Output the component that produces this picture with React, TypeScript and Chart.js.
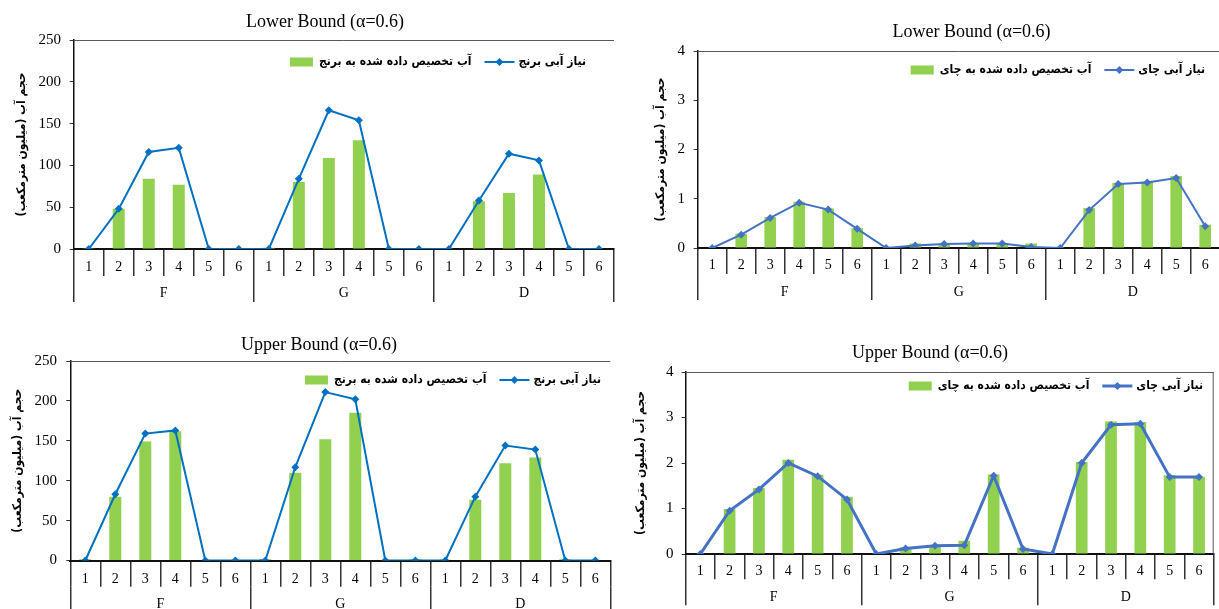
import React, { useEffect, useRef } from 'react';
import { Chart, registerables } from 'chart.js';

Chart.register(...registerables);

// ---------- data ----------
const subLabels = ['1', '2', '3', '4', '5', '6'];
const groupLabels = ['F', 'G', 'D'];
const xLabels = [...subLabels, ...subLabels, ...subLabels];

const riceDemandLower = [0, 48, 116, 121, 0, 0, 0, 84, 166, 154, 0, 0, 0, 58, 114, 106, 0, 0];
const riceAllocLower = [1, 48, 84, 77, 0, 0, 1.5, 80, 109, 130, 0, 0, 0, 57, 67, 89, 0, 0];

const riceDemandUpper = [0, 83, 159, 163, 0, 0, 0, 117, 211, 202, 0, 0, 0, 80, 144, 139, 0, 0];
const riceAllocUpper = [1.5, 80, 149, 162, 0, 0, 1.5, 110, 152, 185, 0, 1.5, 1, 76, 122, 129, 1.5, 0];

const teaDemandLower = [0, 0.27, 0.61, 0.92, 0.78, 0.39, 0, 0.05, 0.08, 0.09, 0.09, 0.02, 0, 0.77, 1.3, 1.33, 1.42, 0.44];
const teaAllocLower = [0, 0.29, 0.63, 0.94, 0.8, 0.4, 0, 0.09, 0.08, 0.08, 0.09, 0.09, 0, 0.81, 1.32, 1.35, 1.46, 0.47];

const teaDemandUpper = [0, 0.95, 1.42, 2.0, 1.71, 1.2, 0, 0.12, 0.18, 0.19, 1.72, 0.11, 0, 2.0, 2.84, 2.86, 1.69, 1.69];
const teaAllocUpper = [0, 0.99, 1.45, 2.07, 1.74, 1.26, 0, 0.15, 0.19, 0.29, 1.75, 0.14, 0, 2.02, 2.91, 2.9, 1.73, 1.7];

const yTitle = 'حجم آب (میلیون مترمکعب)\u200F';
const riceDemandName = 'نیاز آبی برنج';
const riceAllocName = 'آب تخصیص داده شده به برنج';
const teaDemandName = 'نیاز آبی چای';
const teaAllocName = 'آب تخصیص داده شده به چای';
const lowerTitle = 'Lower Bound (α=0.6)';
const upperTitle = 'Upper Bound (α=0.6)';

const SERIF = "'Liberation Serif', 'Times New Roman', serif";
const ARABIC = "'DejaVu Sans Condensed', 'DejaVu Sans', sans-serif";
const BAR_COLOR = '#92D050';
const AXIS_COLOR = '#333333';

type Cfg = {
  left: number; top: number; width: number; height: number;
  title: string; titleX: number; titleY: number; padTop: number;
  demand: number[]; alloc: number[]; demandName: string; allocName: string;
  yMax: number; yStep: number; yAxisWidth: number; yTickPad: number; yTitlePad: number;
  padRight: number; padBottom: number;
  xH1: number; xH2: number; xPad1: number; xPad2: number;
  legendRight: number; legendTop: number;
  lineColor: string; lineWidth: number; pointRadius: number; frameRight: boolean;
};

const titlePlugin = {
  id: 'panelTitle',
  afterDraw(chart: any, _args: any, opts: any) {
    const { ctx } = chart;
    ctx.save();
    ctx.font = `18px ${SERIF}`;
    ctx.fillStyle = '#000';
    ctx.textAlign = 'center';
    ctx.textBaseline = 'middle';
    ctx.fillText(opts.text, opts.x, opts.y);
    ctx.restore();
  },
};

const legendPlugin = {
  id: 'inLegend',
  afterDraw(chart: any, _args: any, opts: any) {
    const { ctx, chartArea } = chart;
    ctx.save();
    ctx.font = `bold 12px ${ARABIC}`;
    ctx.textBaseline = 'middle';
    ctx.direction = 'rtl';
    ctx.textAlign = 'right';
    ctx.fillStyle = '#000';
    const y = chartArea.top + opts.top;
    const xr = chartArea.right - opts.right;
    const w1 = ctx.measureText(opts.lineText).width;
    ctx.fillText(opts.lineText, xr, y);
    const symR = xr - w1 - 4;
    const symL = symR - 30;
    ctx.strokeStyle = opts.color;
    ctx.lineWidth = opts.lineWidth;
    ctx.beginPath();
    ctx.moveTo(symL, y);
    ctx.lineTo(symR, y);
    ctx.stroke();
    const cx = (symL + symR) / 2;
    const r = opts.pointRadius;
    ctx.fillStyle = opts.color;
    ctx.beginPath();
    ctx.moveTo(cx, y - r);
    ctx.lineTo(cx + r, y);
    ctx.lineTo(cx, y + r);
    ctx.lineTo(cx - r, y);
    ctx.closePath();
    ctx.fill();
    const barTextR = symL - 13;
    ctx.fillStyle = '#000';
    const w2 = ctx.measureText(opts.barText).width;
    ctx.fillText(opts.barText, barTextR, y);
    const rectR = barTextR - w2 - 6;
    ctx.fillStyle = BAR_COLOR;
    ctx.fillRect(rectR - 23, y - 4.5, 23, 9);
    ctx.restore();
  },
};

const framePlugin = {
  id: 'frameLines',
  afterDraw(chart: any, _args: any, opts: any) {
    const { ctx, chartArea } = chart;
    ctx.save();
    ctx.strokeStyle = '#595959';
    ctx.lineWidth = 1;
    ctx.beginPath();
    ctx.moveTo(chartArea.left, chartArea.top + 0.5);
    ctx.lineTo(chartArea.right, chartArea.top + 0.5);
    if (opts.right) {
      ctx.moveTo(chartArea.right - 0.5, chartArea.top);
      ctx.lineTo(chartArea.right - 0.5, chartArea.bottom);
    }
    ctx.stroke();
    ctx.restore();
  },
};

const cfgs: Cfg[] = [
  {
    left: 0, top: 0, width: 650, height: 309,
    title: lowerTitle, titleX: 325, titleY: 22, padTop: 40,
    demand: riceDemandLower, alloc: riceAllocLower, demandName: riceDemandName, allocName: riceAllocName,
    yMax: 250, yStep: 50, yAxisWidth: 73.7, yTickPad: 8.7, yTitlePad: 14.5,
    padRight: 36, padBottom: 7, xH1: 27, xH2: 26, xPad1: -17.1, xPad2: -16.8,
    legendRight: 28, legendTop: 22,
    lineColor: '#0070C0', lineWidth: 2, pointRadius: 4, frameRight: false,
  },
  {
    left: 640, top: 0, width: 663, height: 309,
    title: lowerTitle, titleX: 331.5, titleY: 32, padTop: 51,
    demand: teaDemandLower, alloc: teaAllocLower, demandName: teaDemandName, allocName: teaAllocName,
    yMax: 4, yStep: 1, yAxisWidth: 57.7, yTickPad: 8.7, yTitlePad: 13.8,
    padRight: 83.3, padBottom: 9, xH1: 26, xH2: 26, xPad1: -17.0, xPad2: -16.0,
    legendRight: 14.7, legendTop: 19,
    lineColor: '#4472C4', lineWidth: 2, pointRadius: 4, frameRight: false,
  },
  {
    left: 0, top: 318, width: 638, height: 300,
    title: upperTitle, titleX: 319, titleY: 27, padTop: 43,
    demand: riceDemandUpper, alloc: riceAllocUpper, demandName: riceDemandName, allocName: riceAllocName,
    yMax: 250, yStep: 50, yAxisWidth: 70.3, yTickPad: 9.3, yTitlePad: 10.6,
    padRight: 27.7, padBottom: 5.3, xH1: 26.2, xH2: 26, xPad1: -16.1, xPad2: -16.8,
    legendRight: 9.3, legendTop: 19,
    lineColor: '#0070C0', lineWidth: 2, pointRadius: 4, frameRight: false,
  },
  {
    left: 630, top: 318, width: 600, height: 300,
    title: upperTitle, titleX: 300, titleY: 35, padTop: 54,
    demand: teaDemandUpper, alloc: teaAllocUpper, demandName: teaDemandName, allocName: teaAllocName,
    yMax: 4, yStep: 1, yAxisWidth: 55.6, yTickPad: 8.1, yTitlePad: 3.8,
    padRight: 16.3, padBottom: 12.7, xH1: 25.3, xH2: 26, xPad1: -16.7, xPad2: -16.0,
    legendRight: 10.7, legendTop: 14,
    lineColor: '#4472C4', lineWidth: 3, pointRadius: 4, frameRight: true,
  },
];

function Panel({ cfg }: { cfg: Cfg }) {
  const ref = useRef<HTMLCanvasElement | null>(null);
  useEffect(() => {
    if (!ref.current) return;
    const c = cfg;
    const chart = new Chart(ref.current, {
      type: 'bar',
      data: {
        labels: xLabels,
        datasets: [
          {
            type: 'line',
            label: c.demandName,
            data: c.demand,
            xAxisID: 'x',
            yAxisID: 'y',
            borderColor: c.lineColor,
            backgroundColor: c.lineColor,
            borderWidth: c.lineWidth,
            pointStyle: 'rectRot',
            pointRadius: c.pointRadius,
            pointBackgroundColor: c.lineColor,
            pointBorderColor: c.lineColor,
            pointBorderWidth: 0,
            tension: 0,
          } as any,
          {
            type: 'bar',
            label: c.allocName,
            data: c.alloc,
            xAxisID: 'x',
            yAxisID: 'y',
            backgroundColor: BAR_COLOR,
            barPercentage: 0.4,
            categoryPercentage: 1,
          } as any,
        ],
      },
      options: {
        responsive: false,
        animation: false,
        events: [],
        layout: { padding: { left: 0, right: c.padRight, top: c.padTop, bottom: c.padBottom } },
        plugins: {
          legend: { display: false },
          tooltip: { enabled: false },
          title: { display: false },
          panelTitle: { text: c.title, x: c.titleX, y: c.titleY },
          inLegend: {
            lineText: c.demandName,
            barText: c.allocName,
            color: c.lineColor,
            lineWidth: c.lineWidth,
            pointRadius: c.pointRadius,
            right: c.legendRight,
            top: c.legendTop,
          },
          frameLines: { right: c.frameRight },
        } as any,
        scales: {
          x: {
            type: 'category',
            position: 'bottom',
            weight: 1,
            offset: true,
            grid: { offset: true, drawOnChartArea: false, tickLength: c.xH1, color: AXIS_COLOR, lineWidth: 1.5 },
            border: { display: true, color: '#111', width: 2 },
            ticks: { autoSkip: false, maxRotation: 0, padding: c.xPad1, color: '#000', font: { family: SERIF, size: 14 } },
            afterFit: (s: any) => { s.height = c.xH1; },
          },
          x2: {
            type: 'category',
            labels: groupLabels,
            position: 'bottom',
            weight: 2,
            offset: true,
            grid: { offset: true, drawOnChartArea: false, tickLength: c.xH2, color: AXIS_COLOR, lineWidth: 1.5 },
            border: { display: false },
            ticks: { autoSkip: false, maxRotation: 0, padding: c.xPad2, color: '#000', font: { family: SERIF, size: 14 } },
            afterFit: (s: any) => { s.height = c.xH2; },
          },
          y: {
            type: 'linear',
            min: 0,
            max: c.yMax,
            grid: { drawOnChartArea: false, tickLength: 4, color: AXIS_COLOR, lineWidth: 1 },
            border: { display: true, color: '#111', width: 1.5 },
            ticks: { stepSize: c.yStep, padding: c.yTickPad, color: '#000', font: { family: SERIF, size: 15 } },
            title: {
              display: true,
              text: yTitle,
              color: '#000',
              font: { family: ARABIC, size: 12, weight: 'bold' },
              padding: { top: c.yTitlePad, bottom: 0 },
            },
            afterFit: (s: any) => { s.width = c.yAxisWidth; },
          },
        } as any,
      },
      plugins: [legendPlugin as any, framePlugin as any, titlePlugin as any],
    });
    return () => chart.destroy();
  }, [cfg]);
  return (
    <canvas
      ref={ref}
      width={cfg.width}
      height={cfg.height}
      style={{ position: 'absolute', left: cfg.left, top: cfg.top, width: cfg.width, height: cfg.height }}
    />
  );
}

export default function App() {
  return (
    <div
      style={{
        position: 'fixed', left: 0, top: 0, width: 1219, height: 609,
        overflow: 'hidden', background: '#fff',
      }}
    >
      {cfgs.map((c, i) => <Panel key={i} cfg={c} />)}
    </div>
  );
}
